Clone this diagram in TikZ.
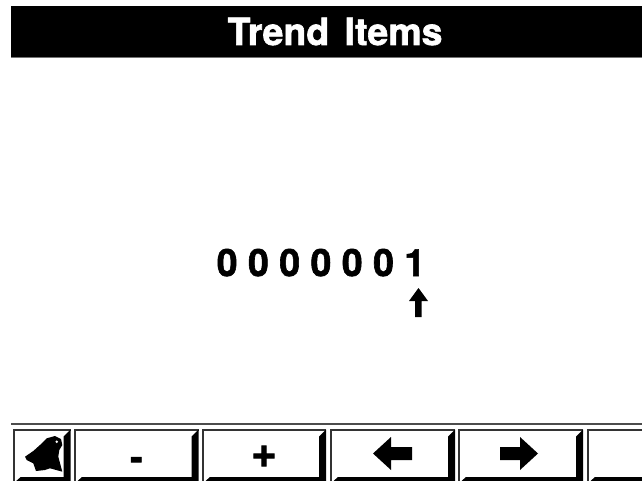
\documentclass[tikz,border=0pt]{standalone}
\usepackage{fontspec}
\setmainfont[BoldFeatures={FakeBold=1.6}]{TeX Gyre Heros}
\tikzset{
  px/.style={x=1pt,y=-1pt},
  lbl/.style={inner sep=0pt,font=\fontsize{37.5}{40}\selectfont\bfseries,text=black},
  glyph/.style={fill=black,draw=none}
}
\newcommand{\softkey}[2]{%
  \fill[black!80] (#1,428.7) rectangle (#2,481);
  \fill[white] (#1+1.8,430.6) rectangle (#2,481);
  \fill[black] (#2,429.5) -- (#2-7,436.5) -- (#2-7,477) -- (#1+8,477) -- (#1+3.5,481) -- (#2,481) -- cycle;
}
\begin{document}
\begin{tikzpicture}[px]
\useasboundingbox (0,0) rectangle (642,481);
\fill[white] (0,0) rectangle (642,481);
% title bar
\fill[black] (11,6) rectangle (642,57);
\draw[black!55,line width=0.9pt] (11,57.5) -- (642,57.5);
\node[lbl,text=white,anchor=base] (title) at (335,45) {Trend\hspace{5pt} Items};
% value
\node[lbl,anchor=base] (value) at (321,276) {0 0 0 0 0 0 1};
% cursor arrow
\fill[glyph] (418.5,288) -- (428,301) -- (421.5,301) -- (421.5,317) -- (415,317) -- (415,301) -- (409,301) -- cycle;
% rule above the keys
\draw[black!70,line width=2pt] (11,423.7) -- (642,423.7);
% keys
\softkey{12.7}{70.5}
\softkey{74}{198.5}
\softkey{202}{326}
\softkey{330}{455}
\softkey{458}{583}
\softkey{587}{660}
% bell
\fill[glyph] (25,456.7) -- (33.3,451) -- (40,445) -- (46.7,438.3) -- (55,436) -- (61,439) -- (62.3,445) -- (59.3,450) -- (58.3,456.7) -- (62.3,471.7) -- (50,468.3) -- (45,470) -- (36,471) -- (33.3,463.3) -- (26.7,460) -- cycle;
\fill[white] (56.7,441.7) circle (1.4);
% key labels
\node[lbl,anchor=base] (minus) at (136.5,470) {-};
\node[lbl,anchor=base,font=\fontsize{44}{46}\selectfont\bfseries] (plus) at (264,467) {+};
\fill[glyph] (373,453.5) -- (391,437) -- (391,447) -- (412,447) -- (412,460) -- (391,460) -- (391,470) -- cycle;
\fill[glyph] (538,453.5) -- (520,437) -- (520,447) -- (500,447) -- (500,460) -- (520,460) -- (520,470) -- cycle;
\end{tikzpicture}
\end{document}
